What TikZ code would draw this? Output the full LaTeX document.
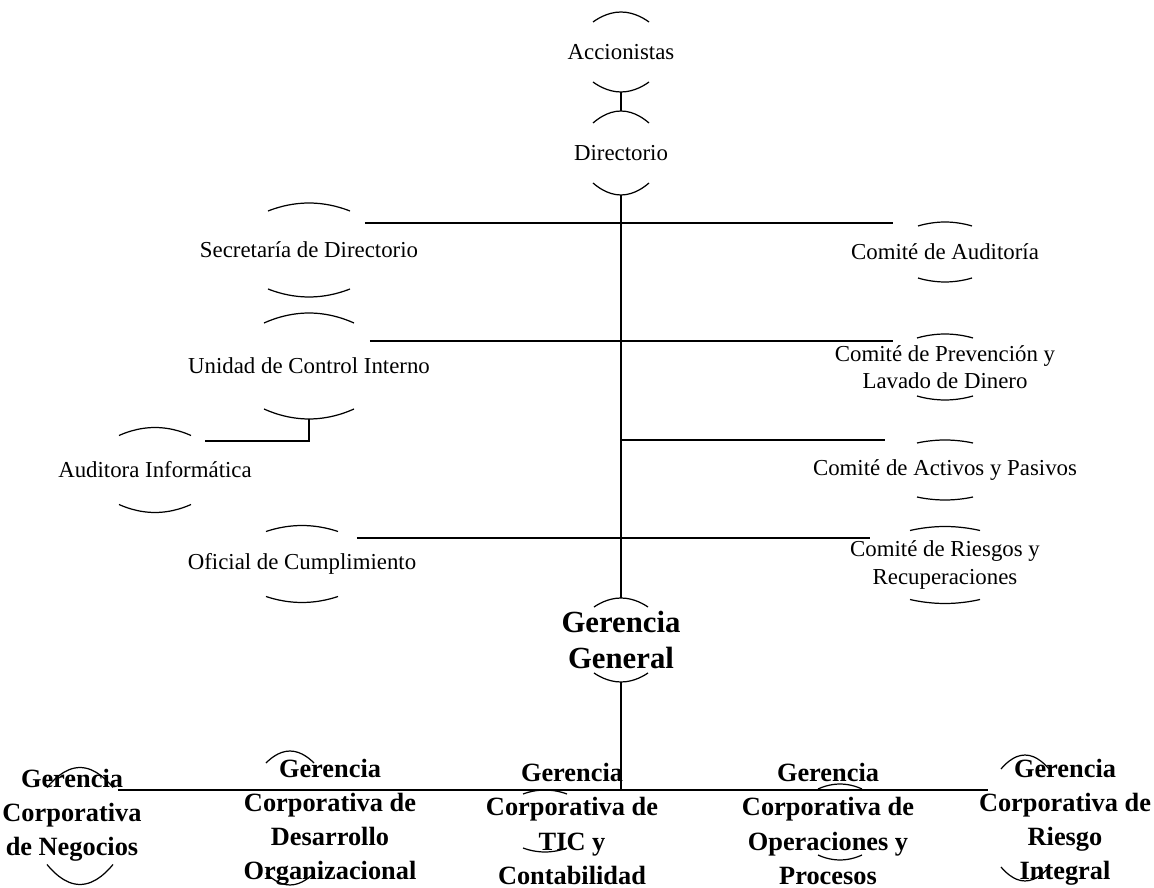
\documentclass[tikz,border=0pt]{standalone}
\usepackage{fontspec}
\setmainfont{Liberation Serif}
\usepackage{tikz}
\usetikzlibrary{positioning,calc}

% top and bottom arcs of an oval, peak at node north/south
\newcommand{\ovalcaps}[3]{%
  \draw[arcline] ($(#1.north)+(-#2,#3)$) parabola bend (#1.north) ($(#1.north)+(#2,#3)$);
  \draw[arcline] ($(#1.south)+(-#2,-#3)$) parabola bend (#1.south) ($(#1.south)+(#2,-#3)$);
}

\begin{document}
\begin{tikzpicture}[
  x=0.02cm, y=-0.02cm,
  % Styles
  ovalbox/.style={inner sep=0pt, outer sep=0pt},
  unit/.style={font=\fontsize{13}{15.5}\selectfont, align=center, inner sep=1pt},
  head/.style={font=\fontsize{17.5}{20}\selectfont\bfseries, align=center, inner sep=1pt},
  dept/.style={font=\fontsize{15}{19.4}\selectfont\bfseries, align=center, inner sep=1pt},
  arcline/.style={line width=0.7pt},
  link/.style={line width=0.8pt}
]
\useasboundingbox (0,0) rectangle (1154,888);

% --- 1. Top ---
\node[ovalbox, minimum width=1.6cm, minimum height=1.6cm] (acc) at (621,52) {};
\node[unit] (acctxt) at (acc) {Accionistas};
\node[ovalbox, minimum width=1.6cm, minimum height=1.68cm] (dir) at (621,153) {};
\node[unit] (dirtxt) at (dir) {Directorio};

% --- 2. Left side units ---
\node[ovalbox, minimum width=2.24cm, minimum height=1.88cm] (secr) at (309,250) {};
\node[unit] (secrtxt) at (secr) {Secretaría de Directorio};
\node[ovalbox, minimum width=2.44cm, minimum height=2.12cm] (unid) at (309,366) {};
\node[unit] (unidtxt) at (unid) {Unidad de Control Interno};
\node[ovalbox, minimum width=2.0cm, minimum height=1.7cm] (audinf) at (155,470) {};
\node[unit] (audinftxt) at (audinf) {Auditora Informática};
\node[ovalbox, minimum width=2.2cm, minimum height=1.54cm] (ofic) at (302,564) {};
\node[unit] (ofictxt) at (ofic) {Oficial de Cumplimiento};

% --- 3. Committees (right) ---
\node[ovalbox, minimum width=2.08cm, minimum height=1.2cm] (caud) at (945,252) {};
\node[unit] (caudtxt) at (caud) {Comité de Auditoría};
\node[ovalbox, minimum width=2.08cm, minimum height=1.32cm] (cprev) at (945,367) {};
\node[unit] (cprevtxt) at (cprev) {Comité de Prevención y\\Lavado de Dinero};
\node[ovalbox, minimum width=2.4cm, minimum height=1.2cm] (cact) at (945,470) {};
\node[unit] (cacttxt) at (cact) {Comité de Activos y Pasivos};
\node[ovalbox, minimum width=3.0cm, minimum height=1.54cm] (cries) at (945,565) {};
\node[unit] (criestxt) at (cries) {Comité de Riesgos y\\Recuperaciones};

% --- 4. General management ---
\node[ovalbox, minimum width=1.6cm, minimum height=1.68cm] (gg) at (621,640) {};
\node[head] (ggtxt) at (gg) {Gerencia\\General};

% --- 5. Corporate managements ---
\node[ovalbox, minimum width=1.52cm, minimum height=2.34cm] (gneg) at (80,826) {};
\node[dept] (gnegtxt) at (72,815) {Gerencia\\Corporativa\\de Negocios};
\node[ovalbox, minimum width=1.2cm, minimum height=2.68cm] (gdes) at (290,818) {};
\node[dept] (gdestxt) at (330,822) {Gerencia\\Corporativa de\\Desarrollo\\Organizacional};
\node[ovalbox, minimum width=1.2cm, minimum height=1.24cm] (gtic) at (545,821) {};
\node[dept] (gtictxt) at (572,824) {Gerencia\\Corporativa de\\TIC y\\Contabilidad};
\node[ovalbox, minimum width=1.2cm, minimum height=1.52cm] (gope) at (840,822) {};
\node[dept] (gopetxt) at (828,824) {Gerencia\\Corporativa de\\Operaciones y\\Procesos};
\node[ovalbox, minimum width=1.48cm, minimum height=2.52cm] (gries) at (1025,818) {};
\node[dept] (griestxt) at (1065,822) {Gerencia\\Corporativa de\\Riesgo\\Integral};

% oval arcs
\ovalcaps{acc}{28}{10}
\ovalcaps{dir}{28}{12}
\ovalcaps{secr}{41}{8}
\ovalcaps{unid}{45}{10}
\ovalcaps{audinf}{36}{8}
\ovalcaps{ofic}{36}{6}
\ovalcaps{caud}{27}{4}
\ovalcaps{cprev}{28}{4}
\ovalcaps{cact}{28}{3}
\ovalcaps{cries}{35}{4}
\ovalcaps{gg}{27}{9}
\ovalcaps{gneg}{33}{20}
\ovalcaps{gdes}{24}{12}
\ovalcaps{gtic}{22}{4}
\ovalcaps{gope}{22}{5}
\ovalcaps{gries}{24}{14}

% --- 6. Connectors ---
\coordinate (j1) at (621,223);
\coordinate (j2) at (621,341);
\coordinate (j3) at (621,440);
\coordinate (j4) at (621,538);
\coordinate (j5) at (621,790);

\draw[link] (acc.south) -- (dir.north);
\draw[link] (dir.south) -- (gg.north);
\draw[link] (secr.east |- j1) -- (caud.west |- j1);
\draw[link] (unid.east |- j2) -- (cprev.west |- j2);
\draw[link] (j3) -- (cact.west |- j3);
\draw[link] (ofic.east |- j4) -- (cries.west |- j4);
\draw[link] (unid.south) |- (audinf.30);

\draw[link] (gg.south) -- (j5);
\draw[link] (gneg.east |- j5) -- (gries.west |- j5);

\end{tikzpicture}
\end{document}
